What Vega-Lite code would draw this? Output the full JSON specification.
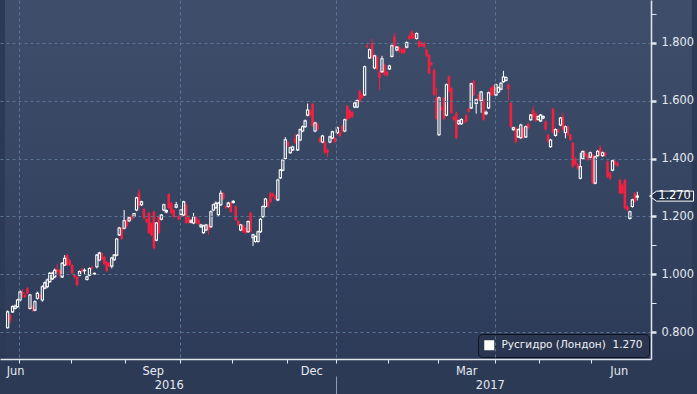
{
"$schema":"https://vega.github.io/schema/vega-lite/v6.json",
"width":651,"height":359,
"autosize":{"type":"none"},
"padding":{"left":0,"top":0,"right":46,"bottom":35},
"background":"#2c3a56",
"config":{"view":{"stroke":null},"font":"DejaVu Sans",
 "legend":{"orient":"bottom-right","offset":2,"padding":6,"fillColor":"#2a3550","strokeColor":"#0d1220","cornerRadius":4,"symbolType":"square","symbolSize":100,"symbolOpacity":1,"symbolStrokeWidth":0,"labelFont":"DejaVu Sans","labelFontSize":10.5,"labelColor":"#f0f2f5","labelLimit":400,"labelOffset":7}},
"data":{"values":[
{"i":-5,"o":0.815,"h":0.875,"l":0.812,"c":0.870},
{"i":-4,"o":0.859,"h":0.862,"l":0.831,"c":0.841},
{"i":-3,"o":0.870,"h":0.892,"l":0.866,"c":0.888},
{"i":-2,"o":0.882,"h":0.895,"l":0.878,"c":0.890},
{"i":-1,"o":0.888,"h":0.915,"l":0.884,"c":0.911},
{"i":0,"o":0.911,"h":0.945,"l":0.905,"c":0.939},
{"i":1,"o":0.939,"h":0.949,"l":0.918,"c":0.932},
{"i":2,"o":0.928,"h":0.935,"l":0.918,"c":0.922},
{"i":3,"o":0.951,"h":0.956,"l":0.930,"c":0.934},
{"i":4,"o":0.882,"h":0.932,"l":0.878,"c":0.928},
{"i":5,"o":0.888,"h":0.893,"l":0.870,"c":0.882},
{"i":6,"o":0.876,"h":0.910,"l":0.872,"c":0.905},
{"i":7,"o":0.917,"h":0.940,"l":0.912,"c":0.934},
{"i":8,"o":0.928,"h":0.932,"l":0.915,"c":0.920},
{"i":9,"o":0.911,"h":0.962,"l":0.905,"c":0.957},
{"i":10,"o":0.952,"h":0.975,"l":0.948,"c":0.970},
{"i":11,"o":0.957,"h":0.985,"l":0.952,"c":0.980},
{"i":12,"o":0.974,"h":1.008,"l":0.970,"c":1.003},
{"i":13,"o":0.984,"h":1.009,"l":0.980,"c":1.003},
{"i":14,"o":0.991,"h":1.020,"l":0.986,"c":1.014},
{"i":15,"o":1.017,"h":1.035,"l":1.005,"c":1.009},
{"i":16,"o":1.014,"h":1.018,"l":0.992,"c":0.997},
{"i":17,"o":0.991,"h":1.042,"l":0.987,"c":1.038},
{"i":18,"o":1.032,"h":1.066,"l":1.028,"c":1.055},
{"i":19,"o":1.066,"h":1.070,"l":1.028,"c":1.032},
{"i":20,"o":1.049,"h":1.053,"l":1.028,"c":1.032},
{"i":21,"o":1.032,"h":1.036,"l":0.998,"c":1.003},
{"i":22,"o":0.997,"h":1.001,"l":0.985,"c":0.990},
{"i":23,"o":0.991,"h":0.995,"l":0.958,"c":0.963},
{"i":24,"o":0.997,"h":1.013,"l":0.993,"c":1.009},
{"i":25,"o":1.017,"h":1.022,"l":1.005,"c":1.009},
{"i":26,"o":1.012,"h":1.020,"l":1.000,"c":1.014},
{"i":27,"o":0.982,"h":0.995,"l":0.978,"c":0.991},
{"i":28,"o":0.997,"h":1.024,"l":0.993,"c":1.020},
{"i":29,"o":1.024,"h":1.030,"l":1.016,"c":1.020},
{"i":30,"o":1.001,"h":1.006,"l":0.999,"c":1.003},
{"i":31,"o":1.026,"h":1.070,"l":1.020,"c":1.066},
{"i":32,"o":1.049,"h":1.078,"l":1.045,"c":1.073},
{"i":33,"o":1.073,"h":1.076,"l":1.048,"c":1.052},
{"i":34,"o":1.060,"h":1.062,"l":1.030,"c":1.035},
{"i":35,"o":1.043,"h":1.046,"l":1.008,"c":1.012},
{"i":36,"o":1.039,"h":1.042,"l":1.024,"c":1.028},
{"i":37,"o":1.028,"h":1.060,"l":1.020,"c":1.056},
{"i":38,"o":1.050,"h":1.070,"l":1.046,"c":1.066},
{"i":39,"o":1.066,"h":1.125,"l":1.062,"c":1.122},
{"i":40,"o":1.136,"h":1.164,"l":1.132,"c":1.160},
{"i":41,"o":1.160,"h":1.164,"l":1.118,"c":1.122},
{"i":42,"o":1.159,"h":1.222,"l":1.155,"c":1.185},
{"i":43,"o":1.185,"h":1.190,"l":1.160,"c":1.165},
{"i":44,"o":1.185,"h":1.198,"l":1.180,"c":1.195},
{"i":45,"o":1.201,"h":1.205,"l":1.186,"c":1.190},
{"i":46,"o":1.200,"h":1.212,"l":1.196,"c":1.210},
{"i":47,"o":1.222,"h":1.268,"l":1.218,"c":1.264},
{"i":48,"o":1.282,"h":1.295,"l":1.230,"c":1.234},
{"i":49,"o":1.240,"h":1.254,"l":1.236,"c":1.250},
{"i":50,"o":1.226,"h":1.230,"l":1.190,"c":1.194},
{"i":51,"o":1.190,"h":1.194,"l":1.176,"c":1.182},
{"i":52,"o":1.212,"h":1.216,"l":1.139,"c":1.143},
{"i":53,"o":1.177,"h":1.180,"l":1.132,"c":1.136},
{"i":54,"o":1.216,"h":1.220,"l":1.086,"c":1.090},
{"i":55,"o":1.118,"h":1.180,"l":1.114,"c":1.177},
{"i":56,"o":1.199,"h":1.203,"l":1.138,"c":1.142},
{"i":57,"o":1.190,"h":1.208,"l":1.186,"c":1.205},
{"i":58,"o":1.222,"h":1.244,"l":1.218,"c":1.240},
{"i":59,"o":1.215,"h":1.224,"l":1.211,"c":1.220},
{"i":60,"o":1.277,"h":1.281,"l":1.225,"c":1.229},
{"i":61,"o":1.246,"h":1.250,"l":1.208,"c":1.212},
{"i":62,"o":1.222,"h":1.226,"l":1.194,"c":1.198},
{"i":63,"o":1.232,"h":1.250,"l":1.228,"c":1.240},
{"i":64,"o":1.201,"h":1.205,"l":1.186,"c":1.190},
{"i":65,"o":1.207,"h":1.226,"l":1.203,"c":1.222},
{"i":66,"o":1.205,"h":1.254,"l":1.201,"c":1.250},
{"i":67,"o":1.240,"h":1.244,"l":1.173,"c":1.177},
{"i":68,"o":1.199,"h":1.203,"l":1.174,"c":1.178},
{"i":69,"o":1.180,"h":1.190,"l":1.176,"c":1.185},
{"i":70,"o":1.177,"h":1.212,"l":1.173,"c":1.198},
{"i":71,"o":1.198,"h":1.202,"l":1.174,"c":1.178},
{"i":72,"o":1.187,"h":1.191,"l":1.170,"c":1.174},
{"i":73,"o":1.164,"h":1.174,"l":1.160,"c":1.170},
{"i":74,"o":1.144,"h":1.171,"l":1.140,"c":1.167},
{"i":75,"o":1.153,"h":1.174,"l":1.149,"c":1.170},
{"i":76,"o":1.170,"h":1.174,"l":1.136,"c":1.153},
{"i":77,"o":1.164,"h":1.220,"l":1.160,"c":1.216},
{"i":78,"o":1.222,"h":1.244,"l":1.218,"c":1.240},
{"i":79,"o":1.230,"h":1.252,"l":1.226,"c":1.245},
{"i":80,"o":1.206,"h":1.250,"l":1.202,"c":1.246},
{"i":81,"o":1.240,"h":1.290,"l":1.236,"c":1.280},
{"i":82,"o":1.280,"h":1.284,"l":1.256,"c":1.260},
{"i":83,"o":1.234,"h":1.238,"l":1.226,"c":1.230},
{"i":84,"o":1.234,"h":1.250,"l":1.230,"c":1.246},
{"i":85,"o":1.246,"h":1.250,"l":1.212,"c":1.216},
{"i":86,"o":1.248,"h":1.256,"l":1.244,"c":1.252},
{"i":87,"o":1.234,"h":1.238,"l":1.184,"c":1.188},
{"i":88,"o":1.184,"h":1.188,"l":1.166,"c":1.170},
{"i":89,"o":1.153,"h":1.174,"l":1.149,"c":1.170},
{"i":90,"o":1.170,"h":1.174,"l":1.143,"c":1.147},
{"i":91,"o":1.160,"h":1.164,"l":1.139,"c":1.143},
{"i":92,"o":1.147,"h":1.186,"l":1.143,"c":1.182},
{"i":93,"o":1.212,"h":1.216,"l":1.143,"c":1.147},
{"i":94,"o":1.126,"h":1.140,"l":1.098,"c":1.136},
{"i":95,"o":1.113,"h":1.134,"l":1.109,"c":1.130},
{"i":96,"o":1.113,"h":1.151,"l":1.109,"c":1.147},
{"i":97,"o":1.147,"h":1.194,"l":1.143,"c":1.190},
{"i":98,"o":1.199,"h":1.238,"l":1.195,"c":1.234},
{"i":99,"o":1.234,"h":1.264,"l":1.230,"c":1.260},
{"i":100,"o":1.250,"h":1.254,"l":1.230,"c":1.234},
{"i":101,"o":1.280,"h":1.284,"l":1.246,"c":1.250},
{"i":102,"o":1.278,"h":1.282,"l":1.266,"c":1.270},
{"i":103,"o":1.270,"h":1.274,"l":1.256,"c":1.260},
{"i":104,"o":1.257,"h":1.330,"l":1.253,"c":1.326},
{"i":105,"o":1.333,"h":1.364,"l":1.329,"c":1.360},
{"i":106,"o":1.360,"h":1.399,"l":1.356,"c":1.395},
{"i":107,"o":1.400,"h":1.474,"l":1.396,"c":1.465},
{"i":108,"o":1.457,"h":1.461,"l":1.439,"c":1.443},
{"i":109,"o":1.420,"h":1.441,"l":1.416,"c":1.437},
{"i":110,"o":1.430,"h":1.444,"l":1.426,"c":1.440},
{"i":111,"o":1.470,"h":1.485,"l":1.450,"c":1.454},
{"i":112,"o":1.430,"h":1.484,"l":1.426,"c":1.480},
{"i":113,"o":1.464,"h":1.504,"l":1.460,"c":1.500},
{"i":114,"o":1.495,"h":1.514,"l":1.491,"c":1.510},
{"i":115,"o":1.510,"h":1.535,"l":1.506,"c":1.530},
{"i":116,"o":1.550,"h":1.590,"l":1.546,"c":1.568},
{"i":117,"o":1.565,"h":1.570,"l":1.546,"c":1.550},
{"i":118,"o":1.589,"h":1.593,"l":1.509,"c":1.513},
{"i":119,"o":1.495,"h":1.527,"l":1.491,"c":1.523},
{"i":120,"o":1.520,"h":1.524,"l":1.496,"c":1.500},
{"i":121,"o":1.471,"h":1.475,"l":1.453,"c":1.457},
{"i":122,"o":1.457,"h":1.482,"l":1.453,"c":1.478},
{"i":123,"o":1.457,"h":1.461,"l":1.416,"c":1.420},
{"i":124,"o":1.430,"h":1.434,"l":1.405,"c":1.420},
{"i":125,"o":1.457,"h":1.479,"l":1.453,"c":1.475},
{"i":126,"o":1.471,"h":1.496,"l":1.467,"c":1.492},
{"i":127,"o":1.471,"h":1.475,"l":1.453,"c":1.457},
{"i":128,"o":1.489,"h":1.510,"l":1.485,"c":1.506},
{"i":129,"o":1.492,"h":1.496,"l":1.474,"c":1.478},
{"i":130,"o":1.513,"h":1.517,"l":1.491,"c":1.495},
{"i":131,"o":1.495,"h":1.538,"l":1.491,"c":1.534},
{"i":132,"o":1.582,"h":1.586,"l":1.530,"c":1.534},
{"i":133,"o":1.567,"h":1.571,"l":1.536,"c":1.540},
{"i":134,"o":1.560,"h":1.564,"l":1.541,"c":1.545},
{"i":135,"o":1.578,"h":1.596,"l":1.574,"c":1.592},
{"i":136,"o":1.578,"h":1.604,"l":1.574,"c":1.600},
{"i":137,"o":1.634,"h":1.638,"l":1.592,"c":1.596},
{"i":138,"o":1.620,"h":1.624,"l":1.606,"c":1.610},
{"i":139,"o":1.620,"h":1.721,"l":1.616,"c":1.717},
{"i":140,"o":1.790,"h":1.800,"l":1.781,"c":1.785},
{"i":141,"o":1.748,"h":1.780,"l":1.744,"c":1.776},
{"i":142,"o":1.800,"h":1.814,"l":1.744,"c":1.748},
{"i":143,"o":1.713,"h":1.759,"l":1.709,"c":1.755},
{"i":144,"o":1.752,"h":1.756,"l":1.703,"c":1.707},
{"i":145,"o":1.700,"h":1.704,"l":1.637,"c":1.678},
{"i":146,"o":1.700,"h":1.755,"l":1.696,"c":1.745},
{"i":147,"o":1.724,"h":1.728,"l":1.686,"c":1.690},
{"i":148,"o":1.700,"h":1.704,"l":1.683,"c":1.687},
{"i":149,"o":1.710,"h":1.724,"l":1.706,"c":1.720},
{"i":150,"o":1.753,"h":1.794,"l":1.749,"c":1.790},
{"i":151,"o":1.822,"h":1.835,"l":1.783,"c":1.787},
{"i":152,"o":1.775,"h":1.789,"l":1.771,"c":1.785},
{"i":153,"o":1.785,"h":1.789,"l":1.766,"c":1.770},
{"i":154,"o":1.776,"h":1.780,"l":1.761,"c":1.765},
{"i":155,"o":1.780,"h":1.784,"l":1.761,"c":1.765},
{"i":156,"o":1.785,"h":1.805,"l":1.781,"c":1.801},
{"i":157,"o":1.824,"h":1.828,"l":1.809,"c":1.813},
{"i":158,"o":1.839,"h":1.843,"l":1.812,"c":1.816},
{"i":159,"o":1.830,"h":1.834,"l":1.811,"c":1.815},
{"i":160,"o":1.815,"h":1.836,"l":1.811,"c":1.832},
{"i":161,"o":1.805,"h":1.809,"l":1.783,"c":1.787},
{"i":162,"o":1.800,"h":1.804,"l":1.786,"c":1.790},
{"i":163,"o":1.800,"h":1.804,"l":1.781,"c":1.785},
{"i":164,"o":1.776,"h":1.780,"l":1.751,"c":1.755},
{"i":165,"o":1.758,"h":1.762,"l":1.691,"c":1.695},
{"i":166,"o":1.730,"h":1.734,"l":1.721,"c":1.725},
{"i":167,"o":1.707,"h":1.711,"l":1.616,"c":1.620},
{"i":168,"o":1.610,"h":1.645,"l":1.533,"c":1.537},
{"i":169,"o":1.482,"h":1.614,"l":1.478,"c":1.610},
{"i":170,"o":1.575,"h":1.579,"l":1.566,"c":1.570},
{"i":171,"o":1.610,"h":1.614,"l":1.533,"c":1.537},
{"i":172,"o":1.550,"h":1.659,"l":1.546,"c":1.655},
{"i":173,"o":1.684,"h":1.688,"l":1.628,"c":1.632},
{"i":174,"o":1.644,"h":1.648,"l":1.554,"c":1.558},
{"i":175,"o":1.545,"h":1.549,"l":1.530,"c":1.534},
{"i":176,"o":1.558,"h":1.562,"l":1.467,"c":1.471},
{"i":177,"o":1.520,"h":1.534,"l":1.516,"c":1.530},
{"i":178,"o":1.520,"h":1.539,"l":1.516,"c":1.535},
{"i":179,"o":1.530,"h":1.534,"l":1.521,"c":1.525},
{"i":180,"o":1.550,"h":1.554,"l":1.524,"c":1.528},
{"i":181,"o":1.572,"h":1.576,"l":1.558,"c":1.562},
{"i":182,"o":1.575,"h":1.662,"l":1.571,"c":1.658},
{"i":183,"o":1.668,"h":1.672,"l":1.616,"c":1.620},
{"i":184,"o":1.590,"h":1.607,"l":1.555,"c":1.603},
{"i":185,"o":1.620,"h":1.624,"l":1.599,"c":1.603},
{"i":186,"o":1.600,"h":1.634,"l":1.558,"c":1.630},
{"i":187,"o":1.603,"h":1.607,"l":1.530,"c":1.534},
{"i":188,"o":1.555,"h":1.566,"l":1.550,"c":1.560},
{"i":189,"o":1.575,"h":1.631,"l":1.571,"c":1.627},
{"i":190,"o":1.644,"h":1.648,"l":1.616,"c":1.620},
{"i":191,"o":1.650,"h":1.654,"l":1.616,"c":1.620},
{"i":192,"o":1.620,"h":1.659,"l":1.616,"c":1.655},
{"i":193,"o":1.630,"h":1.649,"l":1.626,"c":1.645},
{"i":194,"o":1.640,"h":1.664,"l":1.636,"c":1.660},
{"i":195,"o":1.666,"h":1.703,"l":1.662,"c":1.682},
{"i":196,"o":1.670,"h":1.684,"l":1.666,"c":1.680},
{"i":197,"o":1.655,"h":1.659,"l":1.600,"c":1.640},
{"i":198,"o":1.592,"h":1.596,"l":1.506,"c":1.510},
{"i":199,"o":1.500,"h":1.510,"l":1.496,"c":1.506},
{"i":200,"o":1.506,"h":1.510,"l":1.453,"c":1.457},
{"i":201,"o":1.475,"h":1.504,"l":1.471,"c":1.500},
{"i":202,"o":1.472,"h":1.520,"l":1.468,"c":1.516},
{"i":203,"o":1.506,"h":1.510,"l":1.468,"c":1.472},
{"i":204,"o":1.475,"h":1.514,"l":1.471,"c":1.510},
{"i":205,"o":1.520,"h":1.524,"l":1.501,"c":1.505},
{"i":206,"o":1.534,"h":1.554,"l":1.530,"c":1.550},
{"i":207,"o":1.568,"h":1.580,"l":1.538,"c":1.542},
{"i":208,"o":1.555,"h":1.559,"l":1.526,"c":1.530},
{"i":209,"o":1.535,"h":1.549,"l":1.531,"c":1.545},
{"i":210,"o":1.530,"h":1.554,"l":1.526,"c":1.550},
{"i":211,"o":1.540,"h":1.549,"l":1.536,"c":1.545},
{"i":212,"o":1.528,"h":1.532,"l":1.496,"c":1.500},
{"i":213,"o":1.482,"h":1.486,"l":1.454,"c":1.458},
{"i":214,"o":1.441,"h":1.468,"l":1.437,"c":1.464},
{"i":215,"o":1.572,"h":1.576,"l":1.485,"c":1.489},
{"i":216,"o":1.480,"h":1.504,"l":1.476,"c":1.500},
{"i":217,"o":1.500,"h":1.504,"l":1.486,"c":1.490},
{"i":218,"o":1.516,"h":1.544,"l":1.512,"c":1.540},
{"i":219,"o":1.545,"h":1.558,"l":1.496,"c":1.500},
{"i":220,"o":1.490,"h":1.514,"l":1.470,"c":1.510},
{"i":221,"o":1.510,"h":1.514,"l":1.478,"c":1.482},
{"i":222,"o":1.482,"h":1.486,"l":1.460,"c":1.464},
{"i":223,"o":1.454,"h":1.458,"l":1.368,"c":1.372},
{"i":224,"o":1.400,"h":1.404,"l":1.376,"c":1.380},
{"i":225,"o":1.380,"h":1.384,"l":1.361,"c":1.365},
{"i":226,"o":1.332,"h":1.420,"l":1.328,"c":1.372},
{"i":227,"o":1.400,"h":1.428,"l":1.396,"c":1.424},
{"i":228,"o":1.420,"h":1.430,"l":1.406,"c":1.410},
{"i":229,"o":1.412,"h":1.416,"l":1.391,"c":1.395},
{"i":230,"o":1.405,"h":1.424,"l":1.401,"c":1.420},
{"i":231,"o":1.412,"h":1.416,"l":1.311,"c":1.315},
{"i":232,"o":1.315,"h":1.410,"l":1.311,"c":1.406},
{"i":233,"o":1.410,"h":1.429,"l":1.406,"c":1.425},
{"i":234,"o":1.437,"h":1.445,"l":1.408,"c":1.412},
{"i":235,"o":1.410,"h":1.424,"l":1.406,"c":1.420},
{"i":236,"o":1.420,"h":1.424,"l":1.406,"c":1.410},
{"i":237,"o":1.390,"h":1.394,"l":1.333,"c":1.337},
{"i":238,"o":1.350,"h":1.354,"l":1.326,"c":1.330},
{"i":239,"o":1.360,"h":1.396,"l":1.356,"c":1.392},
{"i":240,"o":1.390,"h":1.394,"l":1.376,"c":1.380},
{"i":241,"o":1.385,"h":1.389,"l":1.371,"c":1.375},
{"i":242,"o":1.326,"h":1.330,"l":1.276,"c":1.280},
{"i":243,"o":1.310,"h":1.314,"l":1.276,"c":1.280},
{"i":244,"o":1.326,"h":1.330,"l":1.224,"c":1.228},
{"i":245,"o":1.234,"h":1.238,"l":1.218,"c":1.222},
{"i":246,"o":1.193,"h":1.220,"l":1.189,"c":1.216},
{"i":247,"o":1.234,"h":1.261,"l":1.230,"c":1.257},
{"i":248,"o":1.280,"h":1.284,"l":1.247,"c":1.251},
{"i":249,"o":1.266,"h":1.285,"l":1.255,"c":1.270}
]},
"resolve":{"axis":{"x":"independent"}},
"layer":[
{"data":{"values":[{}]},
 "mark":{"type":"rect","fill":{"gradient":"linear","x1":0,"y1":0,"x2":0,"y2":1,"stops":[{"offset":0,"color":"#3f4f6b"},{"offset":1,"color":"#2d3b58"}]}},
 "encoding":{
  "x":{"datum":-6.06,"type":"quantitative","scale":{"domain":[-6.06,252.5],"nice":false,"zero":false},"axis":null},
  "x2":{"datum":271},
  "y":{"datum":1.948,"type":"quantitative","title":null,"scale":{"domain":[0.707,1.948],"nice":false,"zero":false},
   "axis":{"orient":"right","values":[0.8,0.9,1,1.1,1.2,1.4,1.6,1.8,1.9],
    "labelExpr":"round(datum.value*10) % 2 == 1 ? '' : format(datum.value, '.3f')",
    "grid":true,"gridDash":[3,3],"gridColor":"#5a7594","gridWidth":1,
    "gridOpacity":{"condition":{"test":"round(datum.value*10) % 2 == 1","value":0},"value":1},
    "tickSize":5,"tickColor":"#e2e6ee",
    "tickWidth":{"condition":{"test":"round(datum.value*10) % 2 == 1","value":1},"value":2.5},
    "domainColor":"#e2e6ee","domainWidth":1.5,"labelPadding":5,"labelColor":"#e6eaf0",
    "labelFont":"DejaVu Sans","labelFontSize":11.4,"labelBaseline":"middle","zindex":1}},
  "y2":{"datum":0.707}}},
{"transform":[{"filter":"datum.c < datum.o"}],
 "mark":{"type":"rule","color":"#f3203f","strokeWidth":1},
 "encoding":{
  "x":{"field":"i","type":"quantitative","scale":{"domain":[-6.06,252.5],"nice":false,"zero":false},"axis":null},
  "y":{"field":"h","type":"quantitative","title":null,"scale":{"domain":[0.707,1.948],"nice":false,"zero":false}},
  "y2":{"field":"l"}}},
{"transform":[{"filter":"datum.c >= datum.o"}],
 "mark":{"type":"rule","color":"#ffffff","strokeWidth":1},
 "encoding":{
  "x":{"field":"i","type":"quantitative","scale":{"domain":[-6.06,252.5],"nice":false,"zero":false},"axis":null},
  "y":{"field":"h","type":"quantitative","title":null,"scale":{"domain":[0.707,1.948],"nice":false,"zero":false}},
  "y2":{"field":"c"}}},
{"transform":[{"filter":"datum.c >= datum.o"}],
 "mark":{"type":"rule","color":"#ffffff","strokeWidth":1},
 "encoding":{
  "x":{"field":"i","type":"quantitative","scale":{"domain":[-6.06,252.5],"nice":false,"zero":false},"axis":null},
  "y":{"field":"o","type":"quantitative","title":null,"scale":{"domain":[0.707,1.948],"nice":false,"zero":false}},
  "y2":{"field":"l"}}},
{"transform":[{"filter":"datum.c < datum.o"}],
 "mark":{"type":"bar","width":2.6,"color":"#f3203f"},
 "encoding":{
  "x":{"field":"i","type":"quantitative","scale":{"domain":[-6.06,252.5],"nice":false,"zero":false},"axis":null},
  "y":{"field":"o","type":"quantitative","title":null,"scale":{"domain":[0.707,1.948],"nice":false,"zero":false}},
  "y2":{"field":"c"}}},
{"transform":[{"filter":"datum.c >= datum.o"}],
 "mark":{"type":"bar","width":2.2,"filled":false,"color":"#ffffff","strokeWidth":1.1},
 "encoding":{
  "x":{"field":"i","type":"quantitative","title":null,"scale":{"domain":[-6.06,252.5],"nice":false,"zero":false},
   "axis":{"orient":"bottom","values":[-0.5,20.5,42.5,64.5,85.5,107.5,127.5,148.5,168.5,191.5,209.5,230.5,-2,53.5,117.5,180,241.5],
    "labelExpr":"datum.value == -2 ? 'Jun' : datum.value == 53.5 ? 'Sep' : datum.value == 117.5 ? 'Dec' : datum.value == 180 ? 'Mar' : datum.value == 241.5 ? 'Jun' : ''",
    "tickOpacity":{"condition":{"test":"indexof([-2,53.5,117.5,180,241.5], datum.value) >= 0","value":0},"value":1},
    "grid":true,"gridDash":[3,3],"gridColor":"#5a7594","gridWidth":1,
    "gridOpacity":{"condition":{"test":"indexof([-0.5,64.5,127.5,191.5], datum.value) >= 0","value":1},"value":0},
    "tickSize":4,"tickColor":"#e2e6ee","domainColor":"#e2e6ee","domainWidth":1.5,
    "labelPadding":2,"labelColor":"#e6eaf0","labelFont":"DejaVu Sans","labelFontSize":11.4,
    "labelFlush":false,"labelOverlap":false,"labelBound":false,"zindex":1}},
  "y":{"field":"o","type":"quantitative","title":null,"scale":{"domain":[0.707,1.948],"nice":false,"zero":false}},
  "y2":{"field":"c"}}},
{"data":{"values":[{"i":249,"c":1.27,"s":"Русгидро (Лондон)\u00a0\u00a01.270"}]},
 "mark":{"type":"point","shape":"square","filled":true,"opacity":0},
 "encoding":{
  "x":{"field":"i","type":"quantitative","title":null,"scale":{"domain":[-6.06,252.5],"nice":false,"zero":false},
   "axis":{"orient":"bottom","values":[60,127.5,189.5],
    "labelExpr":"datum.value == 60 ? '2016' : datum.value == 189.5 ? '2017' : ''",
    "domain":false,"grid":false,"offset":17,"tickSize":18,"tickColor":"#8e9bb0","tickWidth":1,
    "tickOpacity":{"condition":{"test":"datum.value == 127.5","value":1},"value":0},
    "labelPadding":-15,"labelColor":"#e6eaf0","labelFont":"DejaVu Sans","labelFontSize":11.4,
    "labelFlush":false,"labelOverlap":false,"labelBound":false,"zindex":1}},
  "y":{"field":"c","type":"quantitative","title":null,"scale":{"domain":[0.707,1.948],"nice":false,"zero":false}},
  "color":{"field":"s","type":"nominal","title":null,"scale":{"range":["#ffffff"]},"legend":{"title":null}}}},
{"transform":[{"filter":"datum.i == 249"}],
 "mark":{"type":"point","shape":"M-1,0L-0.68,-0.227L1,-0.227L1,0.227L-0.68,0.227Z","size":1936,"filled":true,"fill":"#233049","stroke":"#ffffff","strokeWidth":1,"opacity":1},
 "encoding":{
  "x":{"datum":262.8,"type":"quantitative","scale":{"domain":[-6.06,252.5],"nice":false,"zero":false},"axis":null},
  "y":{"field":"c","type":"quantitative","title":null,"scale":{"domain":[0.707,1.948],"nice":false,"zero":false}}}},
{"transform":[{"filter":"datum.i == 249"}],
 "mark":{"type":"text","align":"center","baseline":"middle","dx":3,"font":"DejaVu Sans","fontSize":11.4,"color":"#ffffff"},
 "encoding":{
  "x":{"datum":262.8,"type":"quantitative","scale":{"domain":[-6.06,252.5],"nice":false,"zero":false},"axis":null},
  "y":{"field":"c","type":"quantitative","title":null,"scale":{"domain":[0.707,1.948],"nice":false,"zero":false}},
  "text":{"field":"c","type":"quantitative","format":".3f"}}}
]
}
